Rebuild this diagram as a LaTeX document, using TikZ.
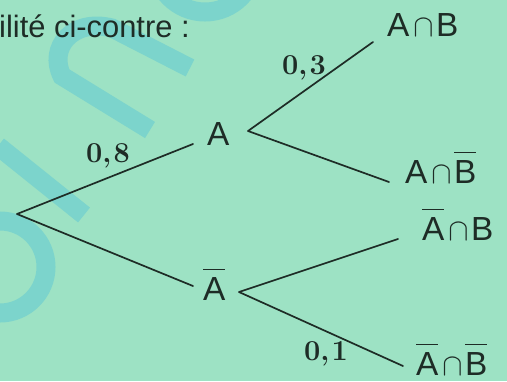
\documentclass[tikz,border=0pt]{standalone}
\usepackage{fontspec}
\setmainfont{Liberation Sans}
\newfontfamily\lmr{Latin Modern Roman}
\newfontfamily\lmmath{Latin Modern Math}
\definecolor{bg}{RGB}{157,226,196}
\definecolor{wm}{RGB}{124,212,204}
\definecolor{ink}{RGB}{30,44,38}
% letter with a bar above it
\newcommand\ov[1]{\setbox0=\hbox{#1}\rlap{\raisebox{\dimexpr\ht0+7bp\relax}{\rule{\wd0}{1.5bp}}}\box0}
% small intersection sign
\newcommand\inter{\kern4.5bp{\fontsize{31}{31}\selectfont\lmmath ∩}\kern1.5bp}
\tikzset{
  lbl/.style={inner sep=0pt, anchor=base west, text=ink, font=\fontsize{33.5}{38}\selectfont},
  prob/.style={inner sep=0pt, text=ink, font=\fontsize{29}{32}\selectfont\lmr\bfseries},
  branch/.style={draw=ink, line width=1.7bp, line cap=round, line join=round},
  wmark/.style={draw=wm, line width=19bp}
}
\begin{document}
\begin{tikzpicture}[x=1bp, y=-1bp]
  \fill[bg] (0,0) rectangle (507,381);
  \useasboundingbox (0,0) rectangle (507,381);
  % faint background lettering
  \begin{scope}
    \clip (0,0) rectangle (507,381);
    \draw[wmark] (0,267) circle (46);
    \draw[wmark] (205,-38) circle (50);
    \draw[wmark] (150,130) -- (62,76) .. controls (48,48) and (72,18) .. (112,28) -- (190,68);
    \draw[wmark] (-2,146) -- (84,215);
  \end{scope}

  % heading text
  \node[lbl, font=\fontsize{31}{36}\selectfont] (head) at (-1,37) {ilité ci-contre :};

  % first level
  \coordinate (root) at (17,214);
  \node[lbl] (nA) at (207,145) {A};
  \node[lbl] (nAb) at (203,300) {\ov{A}};
  \coordinate (nA-in) at (193,144);
  \coordinate (nAb-in) at (193,286);
  \coordinate (nA-out) at (248,131);
  \coordinate (nAb-out) at (239,292);

  % second level
  \node[lbl] (ab) at (387,36) {A\inter B};
  \node[lbl] (abb) at (405,183) {A\inter\ov{B}};
  \node[lbl] (aab) at (422,240) {\ov{A}\inter B};
  \node[lbl] (aabb) at (416,375) {\ov{A}\inter\ov{B}};
  \coordinate (ab-in) at (373,42);
  \coordinate (abb-in) at (389,182);
  \coordinate (aab-in) at (398,239);
  \coordinate (aabb-in) at (403,366);

  % branches
  \draw[branch] (nA-in) -- (root) -- (nAb-in);
  \draw[branch] (ab-in) -- (nA-out) -- (abb-in);
  \draw[branch] (aab-in) -- (nAb-out) -- (aabb-in);

  % probabilities
  \node[prob] (p1) at (108,156) {0,\kern2bp 8};
  \node[prob] (p2) at (304,68) {0,\kern2bp 3};
  \node[prob] (p3) at (326,354) {0,\kern2bp 1};
\end{tikzpicture}
\end{document}
